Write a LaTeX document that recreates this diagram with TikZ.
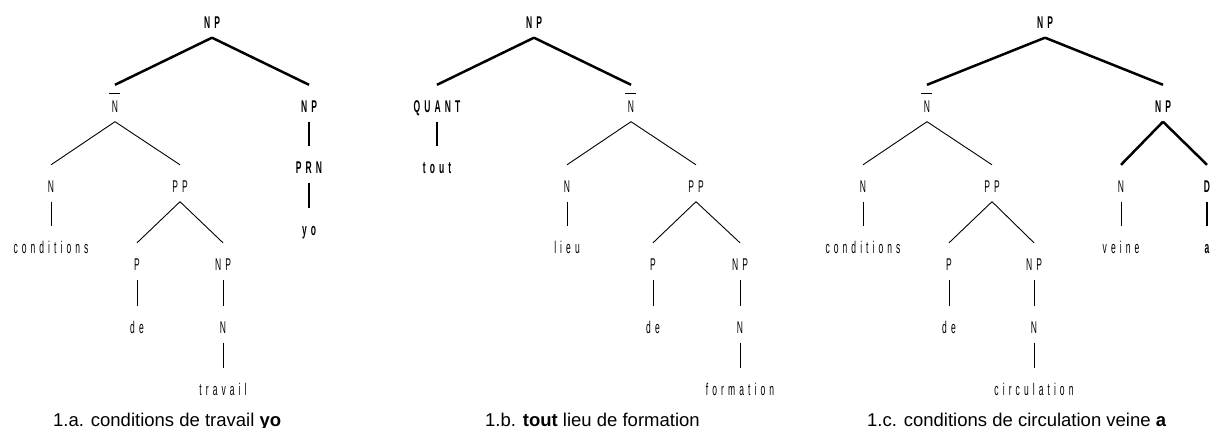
\documentclass[tikz,border=0pt]{standalone}
\usepackage{fontspec}
\setmainfont{Liberation Sans}
\newfontfamily\treefont{Liberation Sans}[FakeStretch=0.5, LetterSpace=24]
\newcommand{\barN}{\makebox[0pt][l]{\hspace{-2.5pt}\raisebox{18pt}{\rule{11pt}{1.2pt}}}N}

\begin{document}
\begin{tikzpicture} [
    x=1pt, y=-1pt,
    cat/.style={anchor=base, inner sep=0pt, text height=27.5pt, text depth=9pt, font=\treefont\fontsize{17}{17}\selectfont},
    bcat/.style={cat, font=\treefont\bfseries\fontsize{17}{17}\selectfont},
    caption/.style={anchor=base west, inner sep=0pt, font=\fontsize{18.5}{18.5}\selectfont},
    thin/.style={line width=0.9pt},
    bold/.style={line width=2.5pt}
]
\useasboundingbox (0,0) rectangle (1210,428);

% Tree 1.a
\node[bcat] (a_np) at (212,28.5) {NP};
\node[cat] (a_nbar) at (115,112.5) {\barN};
\node[bcat] (a_np_r) at (309,112.5) {NP};
\node[bcat] (a_prn) at (309,173.5) {PRN};
\node[bcat] (a_yo) at (309,235.5) {yo};
\node[cat] (a_n) at (51,192.5) {N};
\node[cat] (a_cond) at (51,253.5) {conditions};
\node[cat] (a_pp) at (180,192.5) {PP};
\node[cat] (a_p) at (137,270.5) {P};
\node[cat] (a_np2) at (223,270.5) {NP};
\node[cat] (a_de) at (137,333.5) {de};
\node[cat] (a_n2) at (223,333.5) {N};
\node[cat] (a_trav) at (223,395.5) {travail};
\node[caption] (a_cap) at (53,426) {1.a. conditions de travail \textbf{yo}};

\draw[bold] (a_np.south) -- (a_nbar.north);
\draw[bold] (a_np.south) -- (a_np_r.north);
\draw[bold] (a_np_r.south) -- (a_prn.north);
\draw[bold] (a_prn.south) -- (a_yo.north);
\draw[thin] (a_nbar.south) -- (a_n.north);
\draw[thin] (a_nbar.south) -- (a_pp.north);
\draw[thin] (a_n.south) -- (a_cond.north);
\draw[thin] (a_pp.south) -- (a_p.north);
\draw[thin] (a_pp.south) -- (a_np2.north);
\draw[thin] (a_p.south) -- (a_de.north);
\draw[thin] (a_np2.south) -- (a_n2.north);
\draw[thin] (a_n2.south) -- (a_trav.north);

% Tree 1.b
\node[bcat] (b_np) at (534,28.5) {NP};
\node[bcat] (b_quant) at (437,112.5) {QUANT};
\node[bcat] (b_tout) at (437,173.5) {tout};
\node[cat] (b_nbar) at (631,112.5) {\barN};
\node[cat] (b_n) at (567,192.5) {N};
\node[cat] (b_lieu) at (567,253.5) {lieu};
\node[cat] (b_pp) at (696,192.5) {PP};
\node[cat] (b_p) at (653,270.5) {P};
\node[cat] (b_np2) at (740,270.5) {NP};
\node[cat] (b_de) at (653,333.5) {de};
\node[cat] (b_n2) at (740,333.5) {N};
\node[cat] (b_form) at (740,395.5) {formation};
\node[caption] (b_cap) at (485,426) {1.b. \textbf{tout} lieu de formation};

\draw[bold] (b_np.south) -- (b_quant.north);
\draw[bold] (b_np.south) -- (b_nbar.north);
\draw[bold] (b_quant.south) -- (b_tout.north);
\draw[thin] (b_nbar.south) -- (b_n.north);
\draw[thin] (b_nbar.south) -- (b_pp.north);
\draw[thin] (b_n.south) -- (b_lieu.north);
\draw[thin] (b_pp.south) -- (b_p.north);
\draw[thin] (b_pp.south) -- (b_np2.north);
\draw[thin] (b_p.south) -- (b_de.north);
\draw[thin] (b_np2.south) -- (b_n2.north);
\draw[thin] (b_n2.south) -- (b_form.north);

% Tree 1.c
\node[bcat] (c_np) at (1045,28.5) {NP};
\node[cat] (c_nbar) at (927,112.5) {\barN};
\node[bcat] (c_np_r) at (1163,112.5) {NP};
\node[cat] (c_n) at (863,192.5) {N};
\node[cat] (c_cond) at (863,253.5) {conditions};
\node[cat] (c_pp) at (992,192.5) {PP};
\node[cat] (c_p) at (949,270.5) {P};
\node[cat] (c_np2) at (1034,270.5) {NP};
\node[cat] (c_de) at (949,333.5) {de};
\node[cat] (c_n2) at (1034,333.5) {N};
\node[cat] (c_circ) at (1034,395.5) {circulation};
\node[cat] (c_n3) at (1121,192.5) {N};
\node[cat] (c_veine) at (1121,253.5) {veine};
\node[bcat] (c_d) at (1207,192.5) {D};
\node[bcat] (c_a) at (1207,253.5) {a};
\node[caption] (c_cap) at (867,426) {1.c. conditions de circulation veine \textbf{a}};

\draw[bold] (c_np.south) -- (c_nbar.north);
\draw[bold] (c_np.south) -- (c_np_r.north);
\draw[bold] (c_np_r.south) -- (c_n3.north);
\draw[bold] (c_np_r.south) -- (c_d.north);
\draw[bold] (c_d.south) -- (c_a.north);
\draw[thin] (c_nbar.south) -- (c_n.north);
\draw[thin] (c_nbar.south) -- (c_pp.north);
\draw[thin] (c_n.south) -- (c_cond.north);
\draw[thin] (c_pp.south) -- (c_p.north);
\draw[thin] (c_pp.south) -- (c_np2.north);
\draw[thin] (c_p.south) -- (c_de.north);
\draw[thin] (c_np2.south) -- (c_n2.north);
\draw[thin] (c_n2.south) -- (c_circ.north);
\draw[thin] (c_n3.south) -- (c_veine.north);

\end{tikzpicture}
\end{document}
